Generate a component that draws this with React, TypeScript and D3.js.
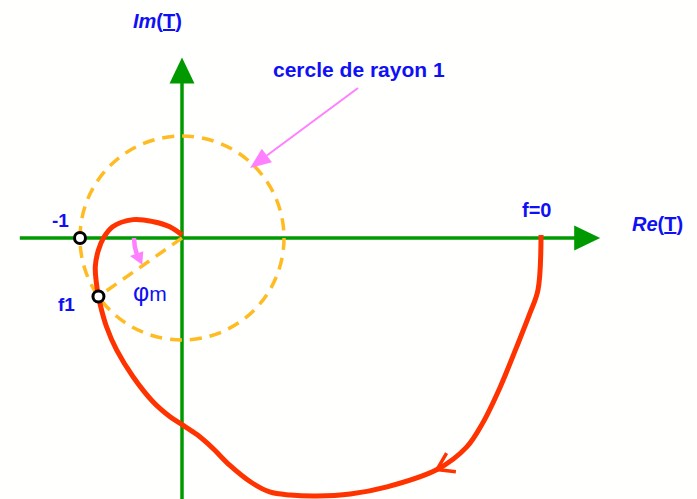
import React from "react";
import * as d3 from "d3";

// Nyquist locus T(jw) from f=0 to the end near origin (Re, Im in units of the unit circle)
const nyquistRe = [3.52, 3.49, 3.41, 3.28, 3.12, 2.95, 2.79, 2.5, 2.01, 1.65, 1.32, 1.06, 0.86, 0.67, 0.47, 0.3, 0.15, 0.0, -0.12, -0.28, -0.48, -0.64, -0.74, -0.8, -0.83, -0.85, -0.82, -0.77, -0.68, -0.48, -0.28, -0.12, 0.0];
const nyquistIm = [0.03, -0.51, -0.74, -1.07, -1.46, -1.81, -2.05, -2.27, -2.44, -2.51, -2.53, -2.52, -2.49, -2.39, -2.23, -2.06, -1.93, -1.83, -1.75, -1.61, -1.36, -1.1, -0.87, -0.66, -0.51, -0.28, -0.12, 0.0, 0.11, 0.18, 0.16, 0.11, 0.03];
const arrowIndex = 7;
const phaseMarginDeg = 35;
const circleRadius = 1;
const criticalPoint = [-1, 0];
const reAxisRange = [-1.59, 4.1];
const imAxisRange = [-2.7, 1.77];

const GREEN = "#009a00";
const ORANGE = "#FFBB22";
const PINK = "#FF80FF";
const RED = "#FF3300";
const BLUE = "#1010F5";
const FONT = "'Liberation Sans', Arial, sans-serif";

export default function App() {
  const W = 697, H = 499;
  const x = d3.scaleLinear().domain([0, 1]).range([182, 284]);
  const y = d3.scaleLinear().domain([0, 1]).range([238, 136]);
  const unit = x(1) - x(0);
  const ox = x(0), oy = y(0);

  const pts: [number, number][] = nyquistRe.map((r, i) => [x(r), y(nyquistIm[i])]);
  const line = d3.line().curve(d3.curveCatmullRom.alpha(0.5));

  // arrow on locus
  const tip = pts[arrowIndex];
  const a = pts[arrowIndex - 1], b = pts[arrowIndex + 1];
  const backAng = Math.atan2(a[1] - b[1], a[0] - b[0]);
  const barb = (d: number) => [tip[0] + 19 * Math.cos(backAng + d), tip[1] + 19 * Math.sin(backAng + d)];
  const b1 = barb(-0.58), b2 = barb(0.58);

  // f1 point on unit circle
  const phi = (phaseMarginDeg * Math.PI) / 180;
  const f1 = [x(-Math.cos(phi) * circleRadius), y(-Math.sin(phi) * circleRadius)];

  // small pink arc arrow for phi m (screen angles, y down)
  const ar = 48;
  const deg = Math.PI / 180;
  const P = (s: number, r = ar) => [ox + r * Math.cos(s), oy + r * Math.sin(s)];
  const s0 = 180 * deg, s1 = 160 * deg, sT = 146 * deg;
  const p0 = P(s0), p1 = P(s1), pT = P(sT);
  const arcPath = `M${p0[0]},${p0[1]}A${ar},${ar} 0 0 0 ${p1[0]},${p1[1]}`;
  const hbL = P(s1 + 1 * deg, ar - 7), hbR = P(s1 + 1 * deg, ar + 7);
  const smallHead = `M${pT[0]},${pT[1]}L${hbL[0]},${hbL[1]}L${hbR[0]},${hbR[1]}Z`;

  const xA0 = x(reAxisRange[0]), xA1 = x(reAxisRange[1]);
  const yA0 = y(imAxisRange[0]), yA1 = y(imAxisRange[1]);

  // big pink pointer
  const pStart = [358, 88], pTip = [250, 168];
  const pa = Math.atan2(pStart[1] - pTip[1], pStart[0] - pTip[0]);
  const hl = 21, hw = 8.5;
  const hb = [pTip[0] + hl * Math.cos(pa), pTip[1] + hl * Math.sin(pa)];
  const pHead = `M${pTip[0]},${pTip[1]}L${hb[0] - hw * Math.sin(pa)},${hb[1] + hw * Math.cos(pa)}L${hb[0] + hw * Math.sin(pa)},${hb[1] - hw * Math.cos(pa)}Z`;

  return (
    <svg width={W} height={H} style={{ position: "absolute", left: 0, top: 0, background: "#fffffd" }} fontFamily={FONT}>
      {/* axes */}
      <line x1={xA0} y1={oy} x2={xA1 - 20} y2={oy} stroke={GREEN} strokeWidth={3.5} />
      <polygon points={`${xA1},${oy} ${xA1 - 26},${oy - 12.5} ${xA1 - 26},${oy + 12.5}`} fill={GREEN} />
      <line x1={ox} y1={yA0} x2={ox} y2={yA1 + 20} stroke={GREEN} strokeWidth={3.5} />
      <polygon points={`${ox},${yA1} ${ox - 12.5},${yA1 + 26} ${ox + 12.5},${yA1 + 26}`} fill={GREEN} />

      {/* unit circle */}
      <circle cx={ox} cy={oy} r={unit * circleRadius} fill="none" stroke={ORANGE} strokeWidth={3.5} strokeDasharray="12 8" />
      <line x1={ox} y1={oy} x2={f1[0]} y2={f1[1]} stroke={ORANGE} strokeWidth={3.5} strokeDasharray="12 8" />

      {/* pink annotation arrows */}
      <line x1={pStart[0]} y1={pStart[1]} x2={hb[0]} y2={hb[1]} stroke={PINK} strokeWidth={2} />
      <path d={pHead} fill={PINK} />
      <path d={arcPath} fill="none" stroke={PINK} strokeWidth={4.5} />
      <path d={smallHead} fill={PINK} />

      {/* locus */}
      <path d={line(pts) as string} fill="none" stroke={RED} strokeWidth={5} strokeLinecap="butt" strokeLinejoin="round" />
      <path d={`M${b1[0]},${b1[1]}L${tip[0]},${tip[1]}L${b2[0]},${b2[1]}`} fill="none" stroke={RED} strokeWidth={3.5} />

      {/* markers */}
      <circle cx={x(criticalPoint[0])} cy={y(criticalPoint[1])} r={5.5} fill="#fff" stroke="#000" strokeWidth={3} />
      <circle cx={f1[0]} cy={f1[1]} r={5.5} fill="#fff" stroke="#000" strokeWidth={3} />

      {/* texts */}
      <g fill={BLUE} fontWeight="bold">
        <text x={133} y={28} fontSize={20}>
          <tspan fontStyle="italic">Im</tspan>(<tspan textDecoration="underline">T</tspan>)
        </text>
        <text x={632} y={231} fontSize={20}>
          <tspan fontStyle="italic">Re</tspan>(<tspan textDecoration="underline">T</tspan>)
        </text>
        <text x={273} y={77} fontSize={21}>cercle de rayon 1</text>
        <text x={522} y={217} fontSize={20}>f=0</text>
        <text x={52} y={227} fontSize={19}>-1</text>
        <text x={58} y={311} fontSize={19}>f1</text>
      </g>
      <text x={133} y={301} fontSize={21} fill={BLUE}>
        <tspan fontSize={25}>φ</tspan>m
      </text>
    </svg>
  );
}
